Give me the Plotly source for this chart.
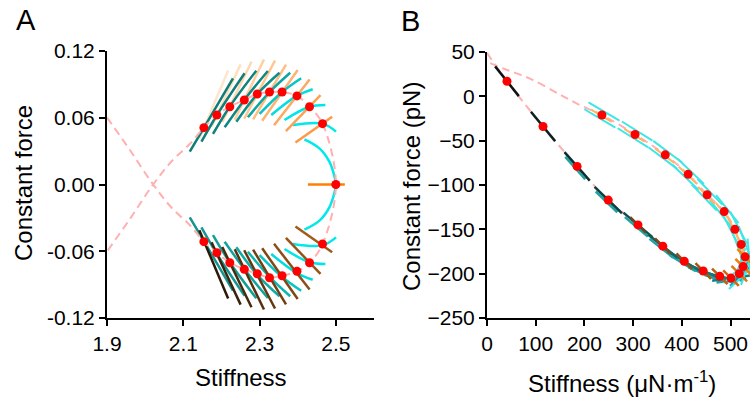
import numpy as np
import plotly.graph_objects as go

# ---------------- Panel A data (dimensionless) ----------------
a_up_x = [2.154, 2.188, 2.222, 2.260, 2.294, 2.326, 2.359, 2.398, 2.431, 2.465, 2.500]
a_up_y = [0.0511, 0.0625, 0.0699, 0.0760, 0.0813, 0.0831, 0.0831, 0.0796, 0.0699, 0.0547, 0.0]
a_lo_x = [2.154, 2.188, 2.222, 2.260, 2.294, 2.326, 2.359, 2.398, 2.431, 2.465]
a_lo_y = [-0.0514, -0.0613, -0.0703, -0.0762, -0.0802, -0.0838, -0.0820, -0.0780, -0.0703, -0.0535]

# left part of the dashed loop (crossing near 2.02)
a_loop_x = [1.900, 1.960, 2.021, 2.070, 2.117]
a_loop_y = [0.0602, 0.0310, 0.0, -0.0211, -0.0364]

# orange family (upper) segment ends: bottom (x0,y0) -> top (x1,y1)
ao_x0 = [2.1421, 2.1740, 2.2022, 2.2349, 2.2597, 2.2830, 2.3068, 2.3379, 2.3690, 2.3941, 2.4268]
ao_y0 = [0.0411, 0.0519, 0.0562, 0.0582, 0.0591, 0.0585, 0.0573, 0.0533, 0.0480, 0.0377, 0.0]
ao_x1 = [2.2176, 2.2503, 2.2788, 2.3115, 2.3405, 2.3693, 2.3999, 2.4312, 2.4597, 2.4903, 2.5235]
ao_y1 = [0.1024, 0.1080, 0.1104, 0.1124, 0.1115, 0.1078, 0.1030, 0.0944, 0.0803, 0.0609, 0.0]

# teal family (upper): start / through-dot / end
at_x = [[2.1170, 2.1544, 2.2302], [2.1476, 2.1884, 2.2608], [2.1779, 2.2216, 2.2914],
        [2.2085, 2.2600, 2.3217], [2.2391, 2.2940, 2.3523], [2.2694, 2.3261, 2.3803],
        [2.3000, 2.3593, 2.4090], [2.3306, 2.3975, 2.4393], [2.3654, 2.4307, 2.4725],
        [2.3871, 2.4647, 2.5005]]
at_y = [[0.0295, 0.0511, 0.0955], [0.0385, 0.0625, 0.1000], [0.0454, 0.0699, 0.1023],
        [0.0514, 0.0760, 0.1020], [0.0564, 0.0813, 0.1005], [0.0604, 0.0831, 0.1005],
        [0.0634, 0.0831, 0.0955], [0.0625, 0.0796, 0.0856], [0.0580, 0.0699, 0.0715],
        [0.0535, 0.0547, 0.0475]]
# closing arc through (2.5, 0)
arc_x = [2.4176, 2.4569, 2.4830, 2.4966, 2.5000, 2.4966, 2.4830, 2.4569, 2.4176]
arc_y = [0.0406, 0.0325, 0.0205, 0.0070, 0.0, -0.0070, -0.0205, -0.0325, -0.0406]

a_xticks = [1.9, 2.1, 2.3, 2.5]
a_yticks = [-0.12, -0.06, 0.0, 0.06, 0.12]
a_yticktext = ["-0.12", "-0.06", "0.00", "0.06", "0.12"]

# ---------------- Panel B data (µN/m, pN) ----------------
b_x = [41, 115, 185, 249, 310, 361, 405, 444, 478, 501, 518, 526, 530, 522, 509, 487, 452, 413, 366, 304, 236]
b_y = [17, -34, -79, -117, -145, -169, -186, -197, -203, -205, -200, -192, -181, -167, -150, -130, -111, -88, -66, -43, -21]
b_head_x = [0, 20]
b_head_y = [49, 33]
b_tail_x = [191, 150, 88, 40, 0]
b_tail_y = [-10, 2, 20, 30, 39]

b_xticks = [0, 100, 200, 300, 400, 500]
b_yticks = [50, 0, -50, -100, -150, -200, -250]

# ---------------- styles ----------------
W, H = 750, 402
A_L, A_R, A_T, A_B = 107, 374, 51, 318
B_L, B_R, B_T, B_B = 487, 750, 52, 318
A_XR, A_YR = [1.9, 2.6], [-0.12, 0.12]
B_XR, B_YR = [0, 540], [-250, 50]

PINK = "#ffb0b0"
RED = "#ff0000"
FONT = "Arial, Liberation Sans, sans-serif"

up_orange = ["#fde6cc", "#fde0c0", "#fdd9b1", "#fdd0a2", "#fdc793", "#fdbd84", "#fdb374",
             "#fca964", "#fca253", "#fc9a45", "#ff8000"]
lo_brown = ["#2b1a08", "#3a230c", "#48290c", "#57300e", "#653810", "#733f12", "#804714",
            "#8c4e16", "#975418", "#a05a1a"]
up_teal = ["#0e7d79", "#0e7f7b", "#0e827e", "#0e8783", "#0d8e8a", "#0fa5a2", "#08c4c4",
           "#00dede", "#00e5e5", "#00e8e8"]
lo_teal = ["#14958f", "#149893", "#139d98", "#12a39e", "#10aaa6", "#0cb6b3", "#07c6c6",
           "#00dcdc", "#00e5e5", "#00e8e8"]

fig = go.Figure()


def add_line(x, y, color, width=2.5, xa="x", ya="y", shape="linear", dash=None):
    fig.add_trace(go.Scatter(x=list(x), y=list(y), mode="lines",
                             line=dict(color=color, width=width, shape=shape, dash=dash),
                             xaxis=xa, yaxis=ya, hoverinfo="skip", showlegend=False))


# ---- Panel A ----
for i in range(7):
    add_line([ao_x0[i], ao_x1[i]], [ao_y0[i], ao_y1[i]], up_orange[i])
for i in range(10):
    add_line(at_x[i], at_y[i], up_teal[i], shape="spline")
    add_line(at_x[i], [-v for v in at_y[i]], lo_teal[i], shape="spline")
add_line(arc_x, arc_y, "#00e8e8", shape="spline")
for i in range(10):
    add_line([ao_x0[i], ao_x1[i]], [-ao_y0[i], -ao_y1[i]], lo_brown[i])
for i in range(7, 11):
    add_line([ao_x0[i], ao_x1[i]], [ao_y0[i], ao_y1[i]], up_orange[i])

pa_x = a_loop_x + a_lo_x + [a_up_x[-1]] + a_up_x[-2::-1] + a_loop_x[::-1]
pa_y = a_loop_y + a_lo_y + [a_up_y[-1]] + a_up_y[-2::-1] + [-v for v in a_loop_y[::-1]]
add_line(pa_x, pa_y, PINK, width=2, shape="spline", dash="8px,5px")

fig.add_trace(go.Scatter(x=a_up_x + a_lo_x, y=a_up_y + a_lo_y, mode="markers",
                         marker=dict(color=RED, size=9, line=dict(width=0)),
                         xaxis="x", yaxis="y", hoverinfo="skip", showlegend=False))

# ---- Panel B ----
sx = (B_R - B_L) / (B_XR[1] - B_XR[0])
sy = (B_B - B_T) / (B_YR[1] - B_YR[0])
bx = np.array(b_x, float)
by = np.array(b_y, float)
px, py = bx * sx, by * sy
tx, ty = np.gradient(px), np.gradient(py)
nrm = np.hypot(tx, ty)
tx, ty = tx / nrm, ty / nrm


def seg(i, half, off=0.0, dirx=None, diry=None):
    ux, uy = (tx[i], ty[i]) if dirx is None else (dirx, diry)
    cx = px[i] - uy * off
    cy = py[i] + ux * off
    xs = [(cx - ux * half) / sx, (cx + ux * half) / sx]
    ys = [(cy - uy * half) / sy, (cy + uy * half) / sy]
    return xs, ys


pb_x = b_head_x + b_x + b_tail_x
pb_y = b_head_y + b_y + b_tail_y
add_line(pb_x, pb_y, PINK, width=2, xa="x2", ya="y2", shape="spline", dash="8px,5px")

dark = ["#111111", "#0d1f1f", "#0b2e2e", "#0c3f3f", "#0e4f4f", "#0f5c5c", "#106666",
        "#117070", "#127878", "#138080"]
for j in range(2, 12):
    xs, ys = seg(j, 15, -2.5)
    add_line(xs, ys, "#1fa3a3", xa="x2", ya="y2")
for j in range(10):
    xs, ys = seg(j, 19, 0)
    add_line(xs, ys, dark[j], xa="x2", ya="y2")
for k in range(10, 21):
    for off in (4.0, -4.0):
        xs, ys = seg(k, 18, off)
        add_line(xs, ys, "#3fe6e6", width=2, xa="x2", ya="y2")
for k in range(12, 21):
    xs, ys = seg(k, 12, 1.0)
    add_line(xs, ys, "#ffb366", width=2, xa="x2", ya="y2")
cross = ["#6e4420", "#7f4a1c", "#904f18", "#a55614", "#bb5e12", "#d06a12", "#e27412",
         "#f07d10", "#ff8000"]
for n, j in enumerate(range(4, 13)):
    xs, ys = seg(j, 11, 0, 0.7071, -0.7071)
    add_line(xs, ys, cross[n], xa="x2", ya="y2")

fig.add_trace(go.Scatter(x=b_x, y=b_y, mode="markers",
                         marker=dict(color=RED, size=9, line=dict(width=0)),
                         xaxis="x2", yaxis="y2", hoverinfo="skip", showlegend=False))

# ---------------- layout ----------------
axis_common = dict(showline=True, linecolor="black", linewidth=2, ticks="outside",
                   ticklen=6, tickwidth=2, tickcolor="black", showgrid=False,
                   zeroline=False, tickfont=dict(family=FONT, size=21, color="black"),
                   fixedrange=True, automargin=False)

fig.update_layout(
    width=W, height=H, margin=dict(l=0, r=0, t=0, b=0, pad=0, autoexpand=False),
    paper_bgcolor="white", plot_bgcolor="white",
    xaxis=dict(domain=[A_L / W, A_R / W], range=A_XR, tickvals=a_xticks,
               ticktext=[f"{v:.1f}" for v in a_xticks], anchor="y", **axis_common),
    yaxis=dict(domain=[1 - A_B / H, 1 - A_T / H], range=A_YR, tickvals=a_yticks,
               ticktext=a_yticktext, anchor="x", **axis_common),
    xaxis2=dict(domain=[B_L / W, B_R / W], range=B_XR, tickvals=b_xticks,
                anchor="y2", **axis_common),
    yaxis2=dict(domain=[1 - B_B / H, 1 - B_T / H], range=B_YR, tickvals=b_yticks,
                anchor="x2", **axis_common),
)

ann = [
    ("A", 26, 20, 29, 0), ("B", 410, 21, 29, 0),
    ("Constant force", 23, 183, 24, -90), ("Stiffness", 241, 377, 24, 0),
    ("Constant force (pN)", 411, 187, 24, -90),
    ("Stiffness (μN·m<sup>-1</sup>)", 622, 382, 24, 0),
]
for text, x, y, size, ang in ann:
    fig.add_annotation(text=text, x=x / W, y=1 - y / H, xref="paper", yref="paper",
                       showarrow=False, textangle=ang, xanchor="center", yanchor="middle",
                       font=dict(family=FONT, size=size, color="black"))

fig.write_html("out.html")
